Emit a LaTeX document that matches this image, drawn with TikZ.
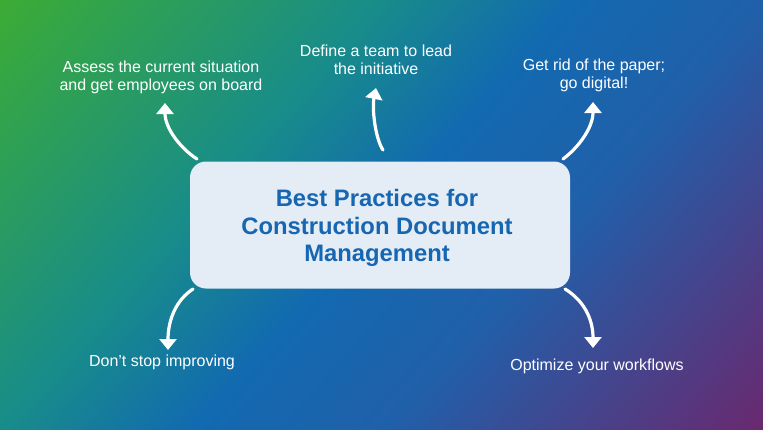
\documentclass[tikz,border=0pt]{standalone}
\usepackage{fontspec}
\setmainfont{Liberation Sans}
\usetikzlibrary{arrows.meta}
\definecolor{cG}{RGB}{60,172,52}
\definecolor{cT}{RGB}{24,140,138}
\definecolor{cM}{RGB}{18,106,176}
\definecolor{cB}{RGB}{32,96,170}
\definecolor{cP}{RGB}{106,40,110}
\definecolor{boxfill}{RGB}{228,236,245}
\definecolor{titleblue}{RGB}{22,102,178}
\pgfdeclarehorizontalshading{bgshade}{1000bp}{color(0bp)=(cG); color(72bp)=(cG); color(358bp)=(cT); color(500bp)=(cM); color(643bp)=(cB); color(928bp)=(cP); color(1000bp)=(cP)}
\begin{document}
\begin{tikzpicture}[x=1pt,y=-1pt,
  lbl/.style={text=white, font=\fontsize{16}{18}\selectfont, align=center, inner sep=0pt},
  titlebox/.style={fill=boxfill, rounded corners=16pt, minimum width=380pt, minimum height=127pt, text=titleblue, font=\fontsize{23.8}{27.5}\selectfont\bfseries, align=center, inner sep=0pt},
  arr/.style={white, line width=3.2pt, line cap=round, -{Triangle[length=11pt,width=17pt]}}]
\useasboundingbox (0,0) rectangle (763,429);
\begin{scope}
\clip (0,0) rectangle (763,429);
\node[inner sep=0pt, rotate=-41.5] (bg) at (381.5,214.5) {\pgfuseshading{bgshade}};
\end{scope}
\node[titlebox] (main) at (380,225) {};
\node[text=titleblue, font=\fontsize{23.8}{27.5}\selectfont\bfseries, align=center, inner sep=0pt] (title) at (377,228) {Best Practices for\\Construction Document\\Management};
\node[lbl] (l1) at (161,77) {Assess the current situation\\and get employees on board};
\node[lbl] (l2) at (376,60) {Define a team to lead\\the initiative};
\node[lbl] (l3) at (594,75) {Get rid of the paper;\\go digital!};
\node[lbl] (l4) at (162,362) {Don’t stop improving};
\node[lbl] (l5) at (597,366) {Optimize your workflows};
\coordinate (s1) at (197,159); \coordinate (e1) at (165,103);
\coordinate (s2) at (383,150); \coordinate (e2) at (376,88);
\coordinate (s3) at (563,159); \coordinate (e3) at (593,102);
\coordinate (s4) at (193,289); \coordinate (e4) at (168,350);
\coordinate (s5) at (565,289); \coordinate (e5) at (593,348);
\draw[arr] (s1) .. controls (180,148) and (165,128) .. (e1);
\draw[arr] (s2) .. controls (375,138) and (372,108) .. (e2);
\draw[arr] (s3) .. controls (578,148) and (593,128) .. (e3);
\draw[arr] (s4) .. controls (176,300) and (168,320) .. (e4);
\draw[arr] (s5) .. controls (583,300) and (593,318) .. (e5);
\end{tikzpicture}
\end{document}
